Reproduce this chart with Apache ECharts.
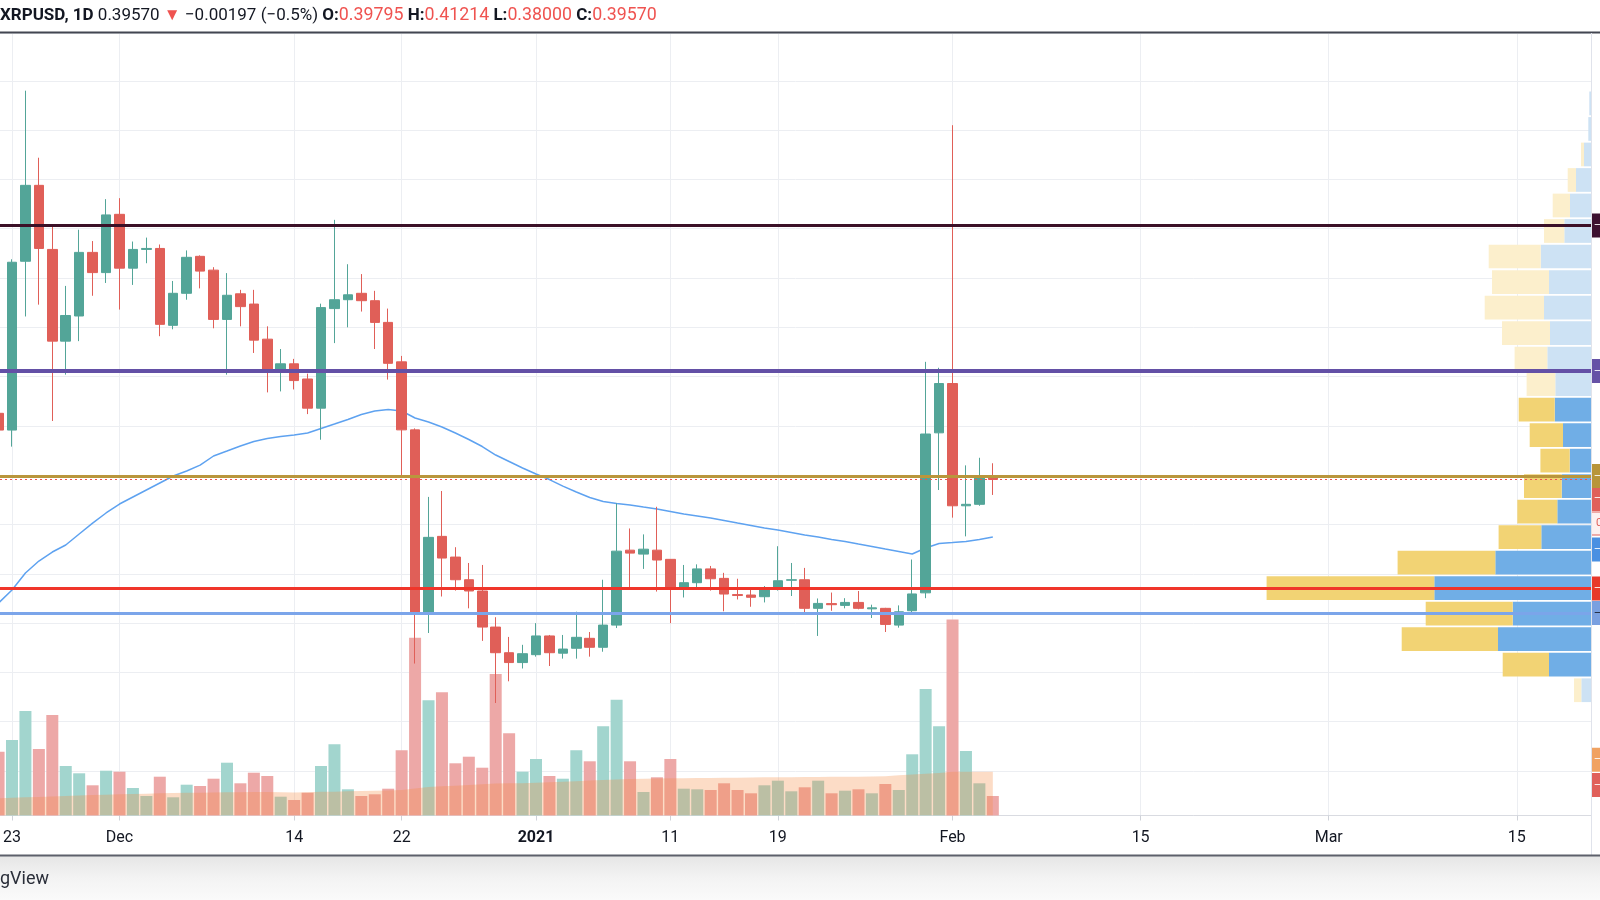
<!DOCTYPE html>
<html><head><meta charset="utf-8">
<script src="https://cdn.jsdelivr.net/npm/echarts@6/dist/echarts.min.js"></script>
<style>html,body{margin:0;padding:0;background:#fff}#c{width:1600px;height:900px}</style>
</head><body><div id="c"></div>
<script>
// ---------------- DATA ----------------
const symbol = 'XRPUSD';
const resolution = '1D';
const firstDate = '2020-11-22'; // candles are consecutive days from here

const opens = [0.4628,0.4458,0.617,0.694,0.629,0.536,0.5615,0.626,0.6055,0.6646,
0.610,0.629,0.630,0.552,0.5845,0.622,0.608,0.558,0.584,0.5736,
0.538,0.507,0.513,0.4976,0.468,0.569,0.578,0.5845,0.577,0.555,
0.515,0.446,0.260,0.338,0.317,0.294,0.2826,0.246,0.220,0.210,
0.218,0.237,0.2195,0.2245,0.2346,0.2255,0.248,0.324,0.320,0.324,
0.3147,0.286,0.291,0.305,0.2954,0.279,0.2785,0.2768,0.2843,0.2935,
0.294,0.265,0.2698,0.268,0.271,0.2645,0.265,0.248,0.2626,0.2807,
0.443,0.493,0.369,0.3705,0.39795];
const highs = [0.475,0.619,0.790,0.722,0.652,0.592,0.649,0.6375,0.680,0.681,
0.637,0.641,0.634,0.597,0.628,0.623,0.611,0.605,0.588,0.588,
0.551,0.528,0.518,0.503,0.574,0.659,0.614,0.604,0.587,0.569,
0.521,0.4475,0.378,0.384,0.327,0.311,0.309,0.256,0.236,0.228,
0.250,0.238,0.238,0.2616,0.241,0.294,0.3715,0.346,0.340,0.368,
0.315,0.309,0.3096,0.308,0.301,0.295,0.2836,0.2876,0.328,0.311,
0.306,0.275,0.281,0.2753,0.2826,0.2687,0.2655,0.268,0.3145,0.515,
0.509,0.755,0.410,0.4177,0.41214];
const lows = [0.432,0.429,0.561,0.573,0.455,0.502,0.536,0.582,0.595,0.568,
0.593,0.615,0.541,0.548,0.578,0.5895,0.549,0.502,0.551,0.524,
0.484,0.485,0.487,0.462,0.436,0.534,0.550,0.566,0.528,0.497,
0.400,0.209,0.240,0.277,0.283,0.265,0.232,0.169,0.191,0.204,
0.216,0.2065,0.214,0.214,0.216,0.221,0.245,0.285,0.305,0.282,
0.250,0.276,0.284,0.283,0.262,0.274,0.2666,0.271,0.283,0.2775,
0.2596,0.237,0.2625,0.265,0.264,0.2552,0.241,0.2454,0.2607,0.2753,
0.385,0.357,0.338,0.369,0.38000];
const closes = [0.4458,0.616,0.694,0.630,0.536,0.562,0.626,0.6055,0.664,0.610,
0.629,0.630,0.553,0.5845,0.621,0.607,0.558,0.5825,0.571,0.537,
0.507,0.513,0.496,0.468,0.570,0.578,0.583,0.577,0.555,0.5135,
0.446,0.2606,0.337,0.316,0.294,0.2826,0.246,0.220,0.210,0.219,
0.237,0.220,0.2237,0.2356,0.2255,0.248,0.323,0.321,0.325,0.314,
0.2853,0.291,0.305,0.295,0.2795,0.278,0.2762,0.2853,0.293,0.294,
0.265,0.270,0.2687,0.271,0.265,0.2655,0.2487,0.2615,0.2796,0.4418,
0.493,0.369,0.3705,0.39767,0.39570];
const priceMA = [0.2704,0.2836,0.3008,0.3130,0.3221,0.3292,0.3404,0.3515,0.3617,0.3708,
0.3779,0.3850,0.3921,0.3992,0.4043,0.4103,0.4195,0.4245,0.4296,0.4342,
0.4372,0.4392,0.4408,0.4428,0.4474,0.4519,0.4565,0.4616,0.4651,0.4666,
0.4651,0.4580,0.4540,0.4489,0.4428,0.4362,0.4291,0.4205,0.4139,0.4073,
0.4012,0.3956,0.3890,0.3830,0.3774,0.3733,0.3713,0.3698,0.3677,0.3657,
0.3632,0.3606,0.3586,0.3566,0.3541,0.3515,0.3490,0.3465,0.3444,0.3419,
0.3394,0.3373,0.3348,0.3328,0.3302,0.3277,0.3251,0.3226,0.3201,0.3262,
0.3307,0.3317,0.3328,0.3348,0.3373];
const volumes = [63.8,75.5,104.5,66.5,100.5,49.5,42.2,30.2,44.8,43.8,
27.5,19.5,38.8,18.2,30.8,29.5,36.8,52.8,32.2,42.8,
39.5,18.8,15.5,22.8,49.5,71.2,26.2,19.5,21.2,26.8,
65.2,177.7,115.2,123.2,52.2,58.8,47.8,141.5,82.2,43.8,
56.5,39.5,36.8,65.2,54.2,89.2,115.8,54.2,23.5,38.2,
56.5,26.8,26.2,25.5,32.2,25.5,22.2,30.2,34.8,24.2,
28.2,34.8,22.2,24.8,26.2,22.2,31.5,25.5,61.2,126.5,
89.2,196.0,64.5,32.2,19.5];
const volumeMA = [17.2,17.7,18.2,18.5,19.0,19.5,20.0,20.5,20.8,21.2,
21.5,21.8,22.2,22.5,22.7,22.8,23.0,23.2,23.3,23.5,
23.5,23.2,23.0,23.3,23.7,23.8,24.2,24.5,24.7,25.0,
25.5,27.0,28.5,29.2,29.8,30.5,31.2,32.0,32.2,32.2,
32.8,33.2,33.7,34.2,35.0,35.5,36.0,36.5,36.8,37.0,
37.2,37.3,37.5,37.6,37.7,37.8,38.0,38.2,38.2,38.3,
38.5,38.5,38.7,38.8,38.8,38.9,39.2,40.2,41.0,41.8,
42.5,43.8,43.8,43.8,43.8];

// visible-range volume profile, rows from lowest low to highest high (bottom -> top)
const profileUpVol   = [9.7,42,93,78.3,156.7,95.7,49.7,33.7,29.3,21.3,28,36.3,35.7,43.7,41,47,42,50.3,26.7,21,15,7,2.7,1.7];
const profileDownVol = [7.3,46.3,96.3,87,167.7,97.7,42.7,40,37.7,29.3,33.3,36,28.7,32.7,48,59.3,57,52,20.3,17.3,8.3,3,0,0];
const valueAreaRows = [1, 11];

// horizontal levels
const levelDark = 0.6532, levelPurple = 0.5057, levelGold = 0.3992, levelRed = 0.2851, levelBlue = 0.2602;

// time axis labels
const tickDates  = ['2020-11-23','2020-12-01','2020-12-14','2020-12-22','2021-01-01','2021-01-11','2021-01-19','2021-02-01','2021-02-15','2021-03-01','2021-03-15'];
const tickLabels = ['23','Dec','14','22','2021','11','19','Feb','15','Mar','15'];

// ---------------- BUILD ----------------
const DAY = 86400000;
const dayIndex = d => Math.round((Date.parse(d) - Date.parse(firstDate)) / DAY);
const tickIdx = tickDates.map(dayIndex);
const n = opens.length;
const UP = '#53a598', DOWN = '#e05f58';
const UPV = '#a2d5ce', DOWNV = '#eda8a7';
const isUp = i => closes[i] > opens[i] || (closes[i] === opens[i] && i > 0 && closes[i] >= closes[i-1]);

const candleData = opens.map((o, i) => [i, o, closes[i], lows[i], highs[i]]);
const volData = volumes.map((v, i) => ({value: [i, v], itemStyle: {color: isUp(i) ? UPV : DOWNV}}));
const volMAData = volumeMA.map((v, i) => [i, v]);
const maData = priceMA.map((v, i) => [i, v]);

const pLow = Math.min(...lows), pHigh = Math.max(...highs);
const rows = profileUpVol.length;
const rowStep = (pHigh - pLow) / rows;

const last = n - 1;
const chg = closes[last] - closes[last - 1];
const pct = chg / closes[last - 1] * 100;
const m = s => s.replace('-', '\u2212');
const f5 = v => v.toFixed(5);

const FONT = 'Roboto';
const X_MIN = 0.107, X_MAX = 118.52;
const Y_MIN = 0.0549, Y_MAX = 0.8485;
const G = {left: 0, top: 33, width: 1591, height: 782.5};

function tag(value, color, opts) {
  opts = opts || {};
  return {
    yAxis: value,
    lineStyle: {color: 'rgba(0,0,0,0)', width: 0, opacity: 1},
    label: Object.assign({
      show: true, position: 'end', distance: 1, formatter: '\u2014', opacity: 1,
      color: '#ffffff', fontSize: 10, lineHeight: 12, fontFamily: FONT,
      backgroundColor: color, padding: [6, 40, 6, 2]
    }, opts)
  };
}
function level(value, color, width, type) {
  return {yAxis: value, lineStyle: {color: color, width: width, type: type || 'solid', opacity: 1}, label: {show: false}};
}

const option = {
  animation: false,
  backgroundColor: '#ffffff',
  title: {
    left: 0, top: 6, padding: 0,
    text: '{b|' + symbol + ', ' + resolution + '} {n|' + f5(closes[last]) + '} {r|\u25BC} {n|' + m(chg.toFixed(5)) + ' (' + m(pct.toFixed(1)) + '%)} ' +
          '{b|O:}{v|' + f5(opens[last]) + '} {b|H:}{v|' + f5(highs[last]) + '} {b|L:}{v|' + f5(lows[last]) + '} {b|C:}{v|' + f5(closes[last]) + '}',
    textStyle: {
      fontWeight: 'normal', fontFamily: FONT, fontSize: 17,
      rich: {
        b: {fontFamily: FONT, fontSize: 17, fontWeight: 'bold', color: '#131722', lineHeight: 20},
        n: {fontFamily: FONT, fontSize: 17, fontWeight: 'normal', color: '#131722', lineHeight: 20},
        r: {fontFamily: FONT, fontSize: 17, fontWeight: 'normal', color: '#ef5350', lineHeight: 20},
        v: {fontFamily: FONT, fontSize: 17.8, fontWeight: 'normal', color: '#ef5350', lineHeight: 20}
      }
    }
  },
  grid: [
    Object.assign({}, G),
    Object.assign({}, G),
    Object.assign({}, G)
  ],
  xAxis: [
    {
      type: 'value', gridIndex: 0, min: X_MIN, max: X_MAX,
      axisLine: {show: true, lineStyle: {color: '#d9dbe1', width: 1}},
      axisTick: {show: true, customValues: tickIdx, length: 5, lineStyle: {color: '#cfd2d9'}},
      axisLabel: {
        show: true, customValues: tickIdx, margin: 14, color: '#131722', fontFamily: FONT, fontSize: 16, lineHeight: 16,
        formatter: v => { const k = tickIdx.indexOf(Math.round(v)); if (k < 0) return ''; const t = tickLabels[k]; return /^\d{4}$/.test(t) ? '{y|' + t + '}' : t; },
        rich: {y: {fontWeight: 'bold', fontFamily: FONT, fontSize: 16, color: '#131722'}}
      },
      splitLine: {show: true, lineStyle: {color: '#eceef2', width: 1}}
    },
    {type: 'value', gridIndex: 1, min: X_MIN, max: X_MAX, show: false, splitLine: {show: false}},
    {type: 'value', gridIndex: 2, min: 0, max: G.width, inverse: true, show: false, splitLine: {show: false}}
  ],
  yAxis: [
    {
      type: 'value', gridIndex: 0, min: Y_MIN, max: Y_MAX, minInterval: 0.05, maxInterval: 0.05, position: 'right',
      axisLine: {show: false}, axisTick: {show: false}, axisLabel: {show: false},
      splitLine: {show: true, lineStyle: {color: '#eceef2', width: 1}}
    },
    {type: 'value', gridIndex: 1, min: 0, max: G.height, show: false, splitLine: {show: false}},
    {type: 'value', gridIndex: 2, min: Y_MIN, max: Y_MAX, show: false, splitLine: {show: false}}
  ],
  series: [
    {
      name: 'Volume', type: 'bar', xAxisIndex: 1, yAxisIndex: 1, z: 1, barWidth: 12, silent: true,
      data: volData,
      markLine: {
        symbol: 'none', silent: true, animation: false, precision: 6,
        data: [
          tag(volumeMA[last], '#f0a262', {offset: [0, -12]}),
          tag(volumes[last], '#e0605a', {offset: [0, -11]})
        ]
      }
    },
    {
      name: 'Volume MA', type: 'line', xAxisIndex: 1, yAxisIndex: 1, z: 2, silent: true,
      data: volMAData, symbol: 'none', lineStyle: {width: 0, opacity: 0},
      areaStyle: {color: 'rgba(246,140,70,0.44)', origin: 'start'}
    },
    {
      name: 'MA', type: 'line', xAxisIndex: 0, yAxisIndex: 0, z: 3, silent: true,
      data: maData, symbol: 'none', lineStyle: {color: '#5ea2f0', width: 1.5}
    },
    {
      name: symbol, type: 'candlestick', xAxisIndex: 0, yAxisIndex: 0, z: 4, silent: true,
      barWidth: 10,
      encode: {x: 0, y: [1, 2, 3, 4]},
      data: candleData,
      itemStyle: {color: UP, color0: DOWN, borderColor: UP, borderColor0: DOWN, borderWidth: 1}
    },
    {
      name: 'Volume Profile', type: 'custom', xAxisIndex: 2, yAxisIndex: 2, z: 4, silent: true,
      data: profileUpVol.map((u, i) => [i, u, profileDownVol[i]]),
      renderItem: (params, api) => {
        const row = api.value(0), up = api.value(1), down = api.value(2);
        const lo = pLow + row * rowStep, hi = lo + rowStep;
        const pA = api.coord([0, lo]);
        const pB = api.coord([up, hi]);
        const pC = api.coord([up + down, hi]);
        const inVA = row >= valueAreaRows[0] && row <= valueAreaRows[1];
        const yTop = pB[1] + 0.9, h = pA[1] - pB[1] - 1.8;
        return {type: 'group', children: [
          {type: 'rect', shape: {x: pB[0], y: yTop, width: pA[0] - pB[0], height: h}, style: {fill: inVA ? '#70aee6' : '#cde2f4'}},
          {type: 'rect', shape: {x: pC[0], y: yTop, width: pB[0] - pC[0], height: h}, style: {fill: inVA ? '#f2d374' : '#fcefcc'}}
        ]};
      }
    },
    {
      name: 'Levels', type: 'line', xAxisIndex: 0, yAxisIndex: 0, z: 10, silent: true,
      data: maData, symbol: 'none', lineStyle: {opacity: 0},
      markLine: {
        symbol: 'none', silent: true, animation: false, precision: 6,
        data: [
          level(closes[last], '#ef5350', 1, [2, 3]),
          level(levelDark, '#3b1027', 3),
          level(levelPurple, '#6350a6', 4),
          level(levelGold, '#b9963c', 3),
          level(levelRed, '#f0352a', 3),
          level(levelBlue, '#7ba5ea', 3),
          tag(levelDark, '#3d1130'),
          tag(levelPurple, '#6652a6'),
          tag(priceMA[last], '#4a90e2', {offset: [0, 12.5]}),
          tag(closes[last], '#fdf1f0', {formatter: f5(closes[last]), color: '#e0605a', fontSize: 11, borderColor: '#e0605a', borderWidth: 1, padding: [5, 20, 5, 4], offset: [0, 44]}),
          tag(closes[last], '#e0605a', {offset: [0, 19.5]}),
          tag(levelGold, '#b8953a'),
          tag(levelRed, '#e8382a'),
          tag(levelBlue, '#7aa0e0', {color: '#131722'})
        ]
      }
    }
  ],
  graphic: [
    {type: 'line', silent: true, z: 50, shape: {x1: 0, y1: 32.5, x2: 1600, y2: 32.5}, style: {stroke: '#434651', lineWidth: 2}},
    {type: 'line', silent: true, z: 50, shape: {x1: 1591.5, y1: 33, x2: 1591.5, y2: 855}, style: {stroke: '#e0e3eb', lineWidth: 1}},
    {type: 'rect', silent: true, z: 49, shape: {x: 0, y: 856, width: 1600, height: 44},
      style: {fill: new echarts.graphic.LinearGradient(0, 0, 0, 1, [{offset: 0, color: '#e6e6e6'}, {offset: 0.5, color: '#f3f3f3'}, {offset: 1, color: '#fafafa'}])}},
    {type: 'line', silent: true, z: 50, shape: {x1: 0, y1: 855.5, x2: 1600, y2: 855.5}, style: {stroke: '#5d606b', lineWidth: 2}},
    {type: 'text', silent: true, z: 51, left: 0, top: 870, style: {text: 'gView', fontFamily: FONT, fontSize: 18, fill: '#2a2e39'}}
  ]
};

const chart = echarts.init(document.getElementById('c'), null, {renderer: 'canvas', width: 1600, height: 900});
chart.setOption(option);
</script>
</body></html>
